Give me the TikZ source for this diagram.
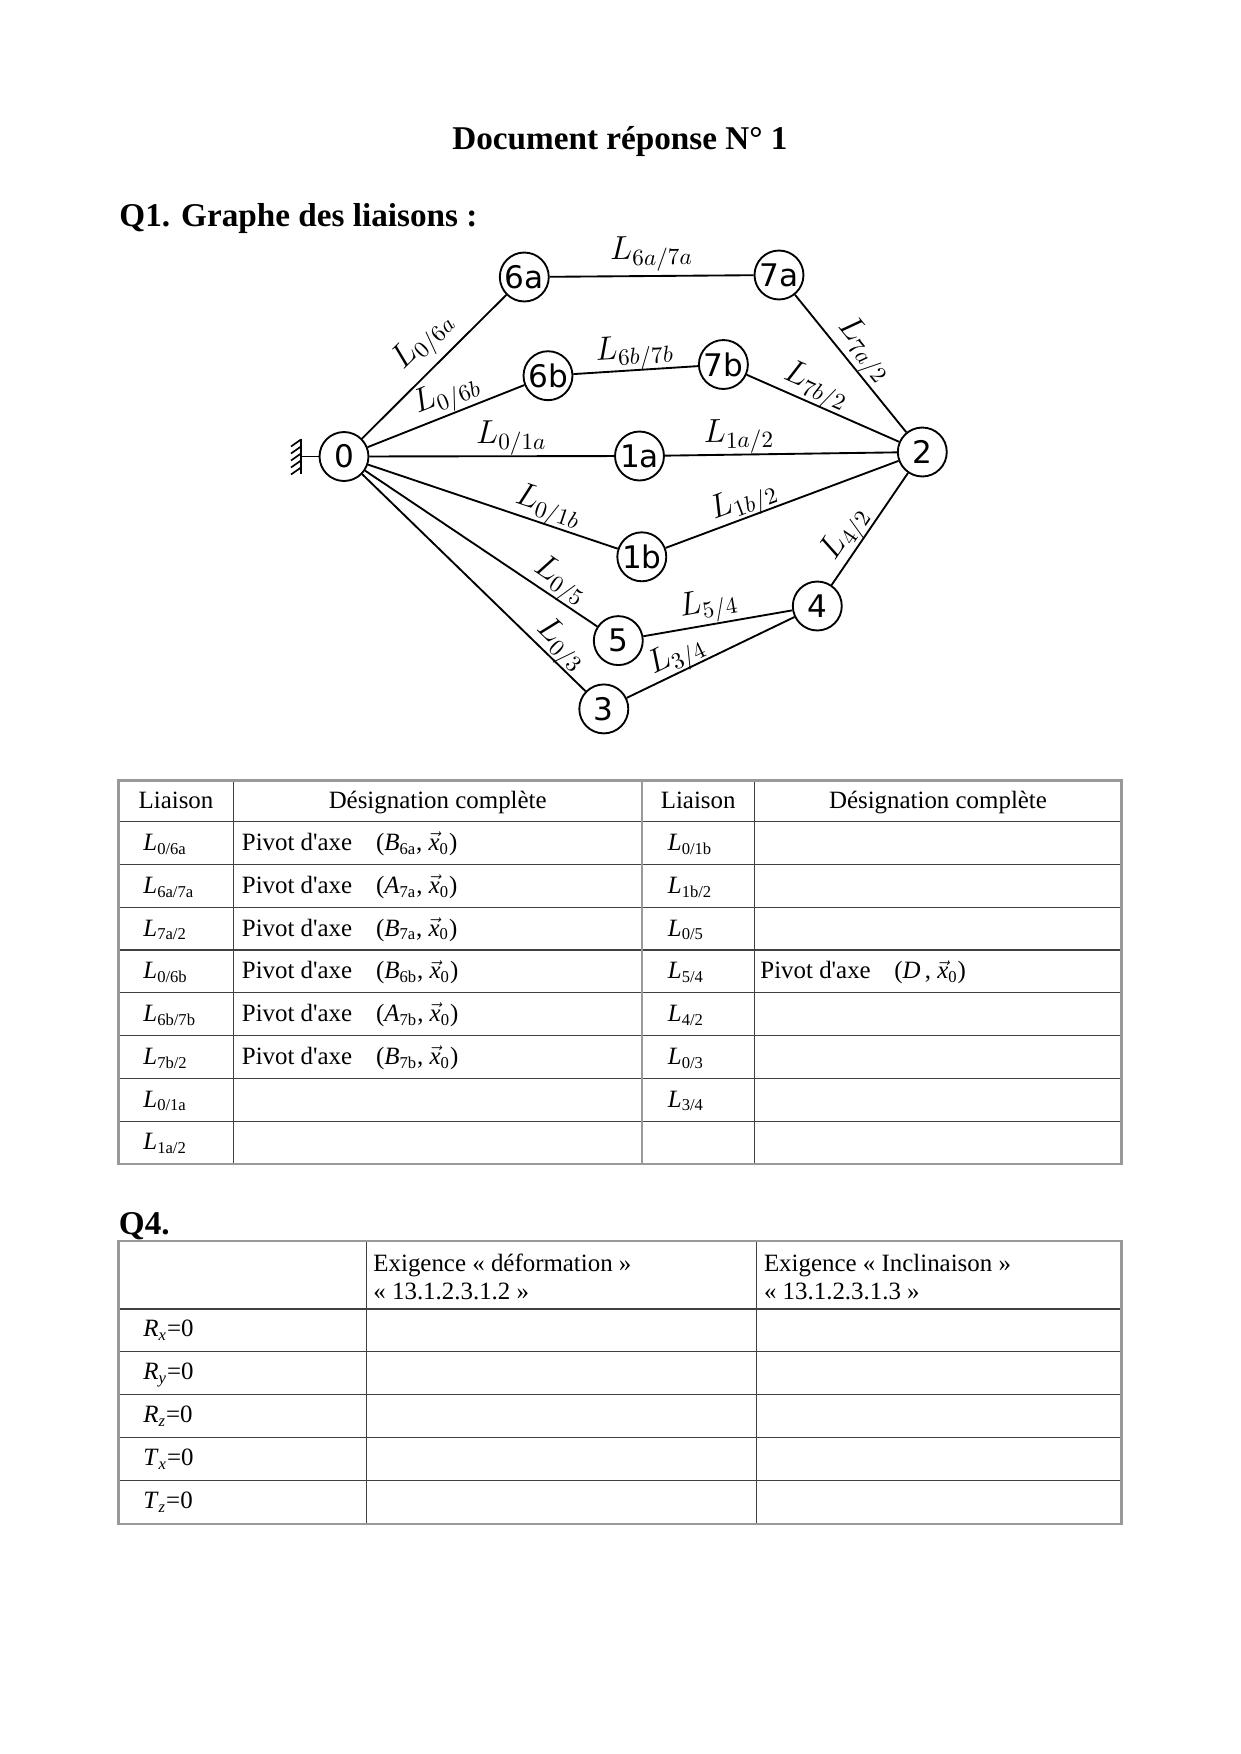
\RequirePackage{fix-cm}
\documentclass[tikz,border=0pt]{standalone}
\usepackage[no-math]{fontspec}
\setmainfont{Liberation Serif}[Ligatures=TeXOff]
\newfontfamily\grfont{DejaVu Sans}
\usetikzlibrary{positioning}
\newcommand{\Lt}[1]{\textit{L}\textsubscript{#1}}
\newcommand{\Xo}{$\vec{\textit{x}}$\textsubscript{0}}
\newcommand{\Ax}[2]{(\textit{#1}\textsubscript{#2}, \Xo)}

\begin{document}
\begin{tikzpicture}[x=0.48bp,y=-0.48bp,
  part/.style={circle,draw,line width=0.9pt,minimum size=23.5bp,inner sep=0.3pt,font=\grfont\fontsize{15}{15}\selectfont},
  liai/.style={line width=0.9pt},
  lab/.style={sloped,above,inner sep=1pt,font=\fontsize{16}{18}\selectfont},
  tabout/.style={draw=black!40,line width=1.1pt},
  tabin/.style={draw=black!75,line width=0.5pt},
  cell/.style={anchor=base west,inner sep=0pt,font=\fontsize{12}{14}\selectfont},
  head/.style={anchor=base west,inner sep=0pt,font=\bfseries\fontsize{16}{19}\selectfont}
]
\useasboundingbox (0,0) rectangle (1240,1754);

\node[head,anchor=base] (titre) at (620,149) {Document réponse N° 1};
\node[head] (q1) at (119,226) {Q1. Graphe des liaisons :};

% graphe des liaisons
\node[part] (n0) at (344,456.5) {0};
\node[part] (n6a) at (524.3,277) {6a};
\node[part] (n7a) at (779,275) {7a};
\node[part] (n6b) at (548,375.7) {6b};
\node[part] (n7b) at (723.4,364.5) {7b};
\node[part] (n1a) at (639.5,456) {1a};
\node[part] (n2) at (922.3,452) {2};
\node[part] (n1b) at (641.8,556.8) {1b};
\node[part] (n5) at (618.3,640.6) {5};
\node[part] (n4) at (817.3,606) {4};
\node[part] (n3) at (603.8,708.9) {3};

% bati
\coordinate (bati) at (301,456.5);
\draw[liai] (301,439) -- (301,474);
\draw[liai] (bati) -- (n0);
\foreach \y in {439.5,446.5,453.5,460.5,467.5}{\draw[line width=0.8pt] (301,\y) -- ++(-10,7);}

\draw[liai] (n0) -- node[lab,pos=.55,above=2pt] {$L_{0/6a}$} (n6a);
\draw[liai] (n6a) -- node[lab,pos=.5,above=1pt] {$L_{6a/7a}$} (n7a);
\draw[liai] (n7a) -- node[lab,pos=.49,above=-1pt] {$L_{7a/2}$} (n2);
\draw[liai] (n0) -- node[lab,pos=.55,above=-1pt] {$L_{0/6b}$} (n6b);
\draw[liai] (n6b) -- node[lab,pos=.5,above=-1.5pt] {$L_{6b/7b}$} (n7b);
\draw[liai] (n7b) -- node[lab,pos=.41,above=-2pt] {$L_{7b/2}$} (n2);
\draw[liai] (n0) -- node[lab,pos=.58,above=-1pt] {$L_{0/1a}$} (n1a);
\draw[liai] (n1a) -- node[lab,pos=.32,above=-1pt] {$L_{1a/2}$} (n2);
\draw[liai] (n0) -- node[lab,pos=.7,above=-2pt] {$L_{0/1b}$} (n1b);
\draw[liai] (n1b) -- node[lab,pos=.36,above=-2.5pt] {$L_{1b/2}$} (n2);
\draw[liai] (n0) -- node[lab,pos=.8,above=-2pt] {$L_{0/5}$} (n5);
\draw[liai] (n5) -- node[lab,pos=.46,above=-1pt] {$L_{5/4}$} (n4);
\draw[liai] (n4) -- node[lab,pos=.37,above=-2pt] {$L_{4/2}$} (n2);
\draw[liai] (n0) -- node[lab,pos=.84,above=-2.5pt] {$L_{0/3}$} (n3);
\draw[liai] (n3) -- node[lab,pos=.34,above=-2.5pt] {$L_{3/4}$} (n4);

% tableau des liaisons
\foreach \k in {0,...,7}{\draw[tabin] (118.5,{821.7+42.76*\k}) -- (1121.4,{821.7+42.76*\k});}
\draw[tabin] (233.7,780.4) -- (233.7,1163.8);
\draw[tabin] (754.7,780.4) -- (754.7,1163.8);
\draw[tabout] (641.7,780.4) -- (641.7,1163.8);
\draw[tabout] (118.5,780.4) rectangle (1121.4,1163.8);

\node[cell,anchor=base] (h1) at (176,808.5) {Liaison};
\node[cell,anchor=base] (h2) at (437.7,808.5) {Désignation complète};
\node[cell,anchor=base] (h3) at (698.2,808.5) {Liaison};
\node[cell,anchor=base] (h4) at (938,808.5) {Désignation complète};
\foreach \s [count=\i] in {0/6a,6a/7a,7a/2,0/6b,6b/7b,7b/2,0/1a,1a/2}
  {\node[cell] (g\i) at (143,{821.7+42.76*(\i-0.5)+7.5}) {\Lt{\s}};}
\foreach \s [count=\i] in {0/1b,1b/2,0/5,5/4,4/2,0/3,3/4}
  {\node[cell] (d\i) at (667.5,{821.7+42.76*(\i-0.5)+7.5}) {\Lt{\s}};}
\foreach \p/\q [count=\i] in {B/6a,A/7a,B/7a,B/6b,A/7b,B/7b}{
  \node[cell] (pv\i) at (241.5,{821.7+42.76*(\i-0.5)+7.5}) {Pivot d'axe};
  \node[cell] (ax\i) at (375.6,{821.7+42.76*(\i-0.5)+7.5}) {\Ax{\p}{\q}};}
\node[cell] (pvd) at (760,{821.7+42.76*3.5+7.5}) {Pivot d'axe};
\node[cell] (axd) at (894,{821.7+42.76*3.5+7.5}) {(\textit{D}\,, \Xo)};

% Q4
\node[head] (q4) at (118.5,1234) {Q4.};
\foreach \k in {0,...,4}{\draw[tabin] (118.5,{1309+42.96*\k}) -- (1121.4,{1309+42.96*\k});}
\draw[tabin] (366.7,1241) -- (366.7,1523.8);
\draw[tabin] (756.9,1241) -- (756.9,1523.8);
\draw[tabout] (118.5,1241) rectangle (1121.4,1523.8);

\node[cell] (ex1) at (373,1271) {Exigence « déformation »};
\node[cell] (nu1) at (373,1299) {« 13.1.2.3.1.2 »};
\node[cell] (ex2) at (763.6,1271) {Exigence « Inclinaison »};
\node[cell] (nu2) at (763.6,1299) {« 13.1.2.3.1.3 »};
\foreach \m/\s [count=\i] in {R/x,R/y,R/z,T/x,T/z}
  {\node[cell] (c\i) at (143,{1309+42.96*(\i-0.5)+6.5}) {\textit{\m}\textsubscript{\textit{\s}}=0};}
\end{tikzpicture}
\end{document}
